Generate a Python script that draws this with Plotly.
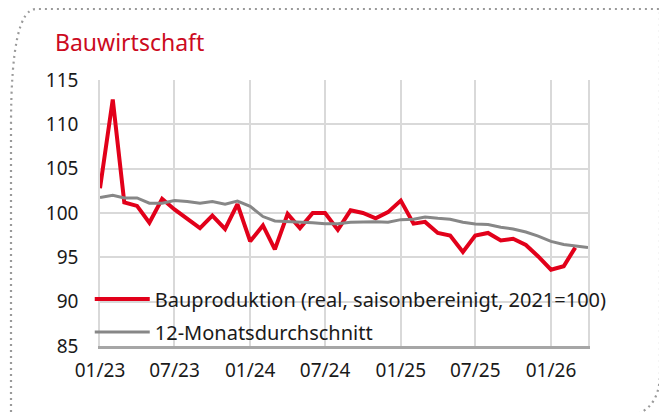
import pandas as pd
import plotly.graph_objects as go

months = pd.date_range("2023-01-01", periods=40, freq="MS")

bauproduktion = [
    102.8, 112.8, 101.2, 100.8, 98.9, 101.6, 100.4, 99.3, 98.3, 99.7,
    98.2, 101.0, 96.8, 98.6, 95.9, 99.9, 98.3, 100.0, 100.0, 98.1,
    100.3, 100.0, 99.4, 100.1, 101.4, 98.8, 99.0, 97.75, 97.45, 95.6,
    97.45, 97.75, 96.9, 97.1, 96.4, 95.1, 93.6, 94.0, 96.1, None,
]
durchschnitt_12m = [
    101.75, 102.0, 101.7, 101.7, 101.1, 101.1, 101.4, 101.3, 101.1, 101.3,
    101.0, 101.35, 100.75, 99.6, 99.1, 99.05, 98.95, 98.9, 98.8, 98.8,
    98.95, 99.0, 99.0, 98.95, 99.25, 99.3, 99.55, 99.4, 99.3, 98.95,
    98.75, 98.7, 98.4, 98.2, 97.85, 97.4, 96.8, 96.45, 96.25, 96.1,
]
tick_dates = ["2023-01-01", "2023-07-01", "2024-01-01", "2024-07-01",
              "2025-01-01", "2025-07-01", "2026-01-01"]
tick_labels = ["01/23", "07/23", "01/24", "07/24", "01/25", "07/25", "01/26"]

c_red = "#e2001a"
c_title = "#cc0a1e"
c_gray = "#878787"
c_grid = "#d9d9d9"
c_text = "#1a1a1a"
font = "Noto Sans"

# the page adds an 8px body margin, so the figure is 8px smaller than the window
W, H = 659, 404

fig = go.Figure(
    [
        go.Scatter(
            x=months, y=bauproduktion, mode="lines",
            line=dict(color=c_red, width=4),
            name="Bauproduktion (real, saisonbereinigt, 2021=100)",
            legendgroup="a",
        ),
        go.Scatter(
            x=months, y=durchschnitt_12m, mode="lines",
            line=dict(color=c_gray, width=3),
            name="12-Monatsdurchschnitt",
            legendgroup="b",
        ),
    ]
)

# dotted frame with rounded corners, in pixels from the plot's top-left corner
fig.add_shape(
    type="path",
    xref="paper", yref="paper", xsizemode="pixel", ysizemode="pixel",
    xanchor=0, yanchor=1,
    path="M -89,-350 L -89,-46 Q -89,71 -64,71 L 560,71 L 560,-293 Q 560,-338 515,-338 L 400,-338",
    line=dict(color="#9a9a9a", width=2.2, dash="2px,4px"),
    layer="above",
)

fig.update_layout(
    width=W,
    height=H,
    margin=dict(l=92, r=79, t=72, b=66),
    paper_bgcolor="white",
    plot_bgcolor="white",
    font=dict(family=font, size=19, color=c_text),
    title=dict(
        text="Bauwirtschaft", font=dict(family=font, size=23, color=c_title),
        xref="container", yref="container", x=47 / W, xanchor="left",
        y=1 - 35 / H, yanchor="middle",
    ),
    showlegend=True,
    legend=dict(
        x=-0.021, y=0.25, xanchor="left", yanchor="top",
        bgcolor="rgba(0,0,0,0)", itemwidth=55,
        traceorder="grouped", tracegroupgap=4,
        font=dict(family=font, size=20, color=c_text),
    ),
)
fig.update_xaxes(
    range=["2023-01-01", "2026-04-01"],
    tickvals=tick_dates, ticktext=tick_labels,
    showgrid=True, gridcolor=c_grid, gridwidth=1.5,
    showline=True, linecolor="#a6a6a6", linewidth=2.5,
    ticks="", ticklabelstandoff=5, zeroline=False,
)
fig.update_yaxes(
    range=[85, 115], dtick=5, tick0=85,
    showgrid=True, gridcolor=c_grid, gridwidth=1.5,
    showline=True, linecolor=c_grid, linewidth=1.5, mirror=True,
    ticks="", ticklabelstandoff=16, zeroline=False,
)

fig.write_html("out.html")
